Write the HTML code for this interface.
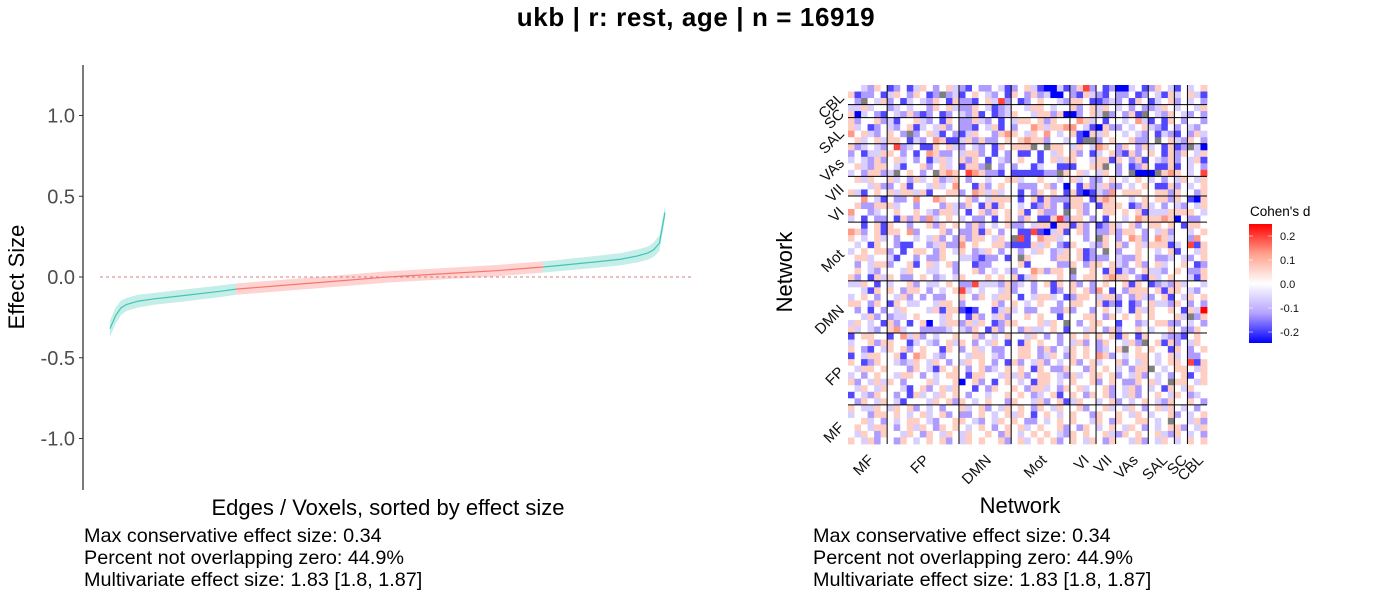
<!DOCTYPE html>
<html><head><meta charset="utf-8">
<style>
html,body{margin:0;padding:0;background:#fff;}
svg{display:block;font-family:"Liberation Sans",Arial,sans-serif;}
</style></head>
<body>
<svg id="chart" width="1400" height="600" viewBox="0 0 1400 600" xmlns="http://www.w3.org/2000/svg">
<text x="696" y="26" text-anchor="middle" font-size="26" font-weight="bold" fill="#000" letter-spacing="0.6">ukb | r: rest, age | n = 16919</text>
<g id="left"></g>
<g id="right"></g>
<g font-size="19.8">
<text x="84" y="542">Max conservative effect size: 0.34</text>
<text x="84" y="564">Percent not overlapping zero: 44.9%</text>
<text x="84" y="586">Multivariate effect size: 1.83 [1.8, 1.87]</text>
<text x="813" y="542">Max conservative effect size: 0.34</text>
<text x="813" y="564">Percent not overlapping zero: 44.9%</text>
<text x="813" y="586">Multivariate effect size: 1.83 [1.8, 1.87]</text>
</g>
</svg>
<script>
// ---- left chart data ----
const pct = [0,1,2,3,5,8,12,20,22.7,30,40,50,60,70,78,80,88,92,95,97,98,99,100];
const effect = [-0.32,-0.24,-0.19,-0.17,-0.15,-0.135,-0.12,-0.088,-0.075,-0.055,-0.028,0,0.02,0.04,0.062,0.068,0.095,0.11,0.13,0.15,0.17,0.21,0.40];
const ciLow = [-0.37,-0.29,-0.235,-0.21,-0.19,-0.172,-0.157,-0.124,-0.11,-0.09,-0.063,-0.035,-0.015,0.005,0.027,0.033,0.058,0.072,0.09,0.108,0.125,0.16,0.36];
const ciHigh = [-0.27,-0.19,-0.145,-0.13,-0.11,-0.098,-0.083,-0.052,-0.04,-0.02,0.007,0.035,0.055,0.075,0.097,0.103,0.132,0.148,0.17,0.19,0.215,0.26,0.44];
const yTicks = [1.0,0.5,0.0,-0.5,-1.0];
const yTickLabels = ["1.0","0.5","0.0","-0.5","-1.0"];
const redStart = 22.7, redEnd = 78;

// ---- heatmap data ----
const networks = ["MF","FP","DMN","Mot","VI","VII","VAs","SAL","SC","CBL"];
const netSizes = [6,11,8,9,4,3,5,4,2,3];
const legendTicks = [0.2,0.1,0.0,-0.1,-0.2];
const legendTickLabels = ["0.2","0.1","0.0","-0.1","-0.2"];
// rows from top (CBL) to bottom (MF); letters: g = 0, step 0.065 per letter, x = NA
const matrixRows = [
"ggfeh gdegd fhgeg hfedg eegfd eghfd acfde hjegd eacfg dehgf dgfgh",
"hdeeg dfhge hgdex efdgh gfegd hgehe fabge dhfed geegd egfdh fghfd",
"gexgf hegdf gfehg dheed ghfje gdegh ggfeh hgdde fegdh gdfgh egfge",
"ffhfg gefgf ggehg hfeeh gfdef ggfhh gfggh eghfh gfgeg eefhg fggfh",
"hcfge dgfeh edegd egfeh dgdef hggfh hehac eghfx egehd xgfeh gfege",
"heggh efdgg hfegd hgeeh fegdg fhhgh ehggg ihfgd ggfgi fdgdh gegge",
"hfgde gfegh dfgfh egeed gfhdg eggih fhhii gfdbh eegfg hfedg egfeg",
"ighfe ghgex eghfd gedfh ggehi hgfhg igfgh dbhfh ggfgf egdfe dgehf",
"ghfgh fhhgd fegih ddfhe heegh ghihh eggfg dxxeg hgghe egxgh fehge",
"hefgf egjef gddhg hfegf egdhg hhhxg xhhgf hgfih gehge hfgdh dexfb",
"egdff hhgeg dgihe egfhh egdge gddgd gfhgh egdfg hedhe ghgdh ehgfh",
"fgfeh eghfg egdfh fgheh gdgfe ghggd ghfhh ggfhh dhgeh dgfeh egfhd",
"ghfeh hgfdg ghegh fgdhh exgeg eggdf ggddd gghhx gegde hgddh dgfge",
"fgehh efxgh gegxh ihgji heedg ddddd eexhg hfgfh gegxb baxhi hgfgj",
"ghfhg ghfge hfghe fhgeg gfggh hfggh ggfgh fgeeg hgfgh gfgeg fhgfh",
"gggfh eeghd ggfhf giggd heghg geeeg hegcg dhefh eegfg hgddh egfgh",
"hfdgh ghfhh fhdgg hhegi hfhfg gdgeh ghgdh dcdfe ighhh gghhe hggeh",
"ggigf dgeeg iggih ggghe gfhhh gdghd heeeh hgdhi hggfg hghhe hgdbh",
"gheeh hhfgg eggge hfehg dhdhg gfgde hegdh hegdh hhgde hfgeg fegfh",
"iggef gghgg hgfeh hfgdg hehgh ghdgh eegxg heggh hghgh dfffh hhhgf",
"fgdge egdhe heifg hgfge egdgh gehgd dhjeh hgegd ggfgi hhhih bgeeg",
"ggdgh dhgge ggheh ghgeh egfgh eegfh hbhhd hegde hfghe ghhgh gdhhg",
"ihegh dhhgi egggh egeeh dhgeg gddjd bfhdg hegee hehhg egfhe ggfgh",
"hgfgh fgegg fgfhe geheh hgfhg xjdgi hhfgg gegxh gegih egihf ggeig",
"gfgdh ggedd ggefh eeigh gghhe dddhf hgedh ggfeh ghegh fhhhd fgjdh",
"fghgh hegdg hhgeh gfhge fhgeg gegfh gefhg hdegx geggh ggfgh dggfh",
"ghhfg gfdgg egeeh ggffe deegd gxhgg gehhg hdeee gfeeh ggeef gfegh",
"gegfh heggh dghfg heggd eeggg ghdgg ggeeh gehhg hfegh eghfg ghgde",
"ghgfe gggfh ggffg geggh egfgf eggih ehhgx gghgd hdfeg hffeg hgeeh",
"hegdh fhgee ghgef gfhgg ghghg hdfhg gghge ghhgh ihhge dhfgh ggfdh",
"ffhgd gfggh egffg hgeej fffeh efgeg hdhgh egegh gghdh gdefe hfggf",
"ggfdh ghgeh hgegf ghjfg fggfh eggeg gdegh gheig dgehh hghdh hgfeg",
"fghge ggfhe gegee gghge hgfhh gdgfh hfgde hhgfh hegeh feghd gfhgh",
"hhgeh gdhgf fggfh hgegg ggheg hgfgh ggegh hgghd edgde ghffe hgege",
"gegdg egfhg ggfhd hhdcd ggdfh fgeeg geehe ggegh gfgdh fhggh gdhfk",
"ggfhe geffg hgggf hggdh egfhe gghgh ggdgg ghhge hghgh ghggg hfxeh",
"fhgfg dhegd ghcgf hhehf hgdeh hgggh fhgxg eghhg gdgge fghhe egfge",
"hfgfe ghifg geeee fgfeh gdheg gehff ghgdg gfhge heggh gfggh geehg",
"dghhg gdgif hegfg ghggh egfgh ggfhg egegh ghghg hdhgd hggfe edghg",
"fgghe hhggd fgfeg hfhge gfhgd gdhgh ggegf hegeh ggfhe xghdh egfhg",
"hgedg fhghe ghggd hgegh fgeeg ghhge hegfh ghgef ghxgh ghggd hgegh",
"dgfhh gghdg ihgfe gggfh hgfeg ghhge fhgeh ghgih egfgh hgfgh fgeeg",
"hgdeh ggfef hgfhg egfhg hgegd hegfh egfgh eghfg ghegf hgfgh hgjdh",
"gfhhg hggge hgfdh ghgeg hefgh ghgdh geehg gehgh gfgeh hxgfg hhgfh",
"fgegh ggfhh gegfg hhgdh hggfh fhegh hgfeh fghhg hegfh egfge ghdgh",
"hegfh fhgeg gghfg ghcgh egdgh gfgdh hgfgh ggheg hgeeh ghfgx hhgfh",
"gfhgf hggfd ghegh fhggd gehgg hgehh fgehg hfggh egfhe gfgdh gfhgg",
"dgfeh ggegd hfgfh ghgeg gfggh ghgef ghdgh gehgh egfhe gghgf hgefg",
"gehgf hgfdg ggfhg hehgf ghgge hggfh eghdf hggfg hegfg hgfeh gghge",
"hgffh gfhgh egfge gghfg hegfh ghgeh gfhgg heggh fgfhg eghfh gfgeg",
"fggeh hghgf ghfgh egeeg hgfgh fhgdg hgfgh ggehg ghgfh gfggh egfgh",
"gghfg egfgh hgfeg ghhgf egfhg hgeeg fghgh ggfhg ehggh hgfgx ggfhe",
"ghgfh hgegh fhgeh ghgfg hgegh ghfgh ggheg ehgfg hgfhg egfgh hegfh",
"gfhge hggfh gehgf hgfhg ghgeh gfghg hgfeh ghggh fehgh gghfe hgfge",
"hgfhe ggehg fghgh egfhg hgghe ghfgh ghegh gfhge hggfh egfhg fghgh"
];

const NS = "http://www.w3.org/2000/svg";
function mk(tag, attrs, parent, txt){
  const el = document.createElementNS(NS, tag);
  for (const k in attrs) el.setAttribute(k, attrs[k]);
  if (txt !== undefined) el.textContent = txt;
  parent.appendChild(el);
  return el;
}

// ===== Left chart =====
const L = document.getElementById('left');
const xL0 = 110, xL1 = 665, y0 = 277, ySc = 161.5;
const xP = p => xL0 + (xL1 - xL0) * p / 100;
const yV = v => y0 - v * ySc;

let ax = mk('line', {x1:83, y1:65, x2:83, y2:490, stroke:'#333', 'stroke-width':1.3}, L);


yTicks.forEach((t, i) => {
  const tk = mk('line', {x1:79, y1:yV(t), x2:83, y2:yV(t), stroke:'#333', 'stroke-width':1}, L);
  
  
  const lb = mk('text', {x:75, y:yV(t)+7, 'text-anchor':'end', 'font-size':20, fill:'#4d4d4d'}, L, yTickLabels[i]);
  
  
});
let yl = mk('text', {x:0, y:0, transform:'translate(24,277) rotate(-90)', 'text-anchor':'middle', 'font-size':22}, L, 'Effect Size');


let xl = mk('text', {x:388, y:515, 'text-anchor':'middle', 'font-size':22}, L, 'Edges / Voxels, sorted by effect size');



function interp(arr, p){
  for (let i = 0; i < pct.length - 1; i++) {
    if (p >= pct[i] && p <= pct[i+1]) {
      const f = (p - pct[i]) / (pct[i+1] - pct[i]);
      return arr[i] + f * (arr[i+1] - arr[i]);
    }
  }
  return arr[arr.length-1];
}
function segment(pa, pb, fill, line, name){
  const ps = [pa];
  pct.forEach(p => { if (p > pa && p < pb) ps.push(p); });
  ps.push(pb);
  const up = ps.map(p => xP(p) + ',' + yV(interp(ciHigh, p)));
  const lo = ps.slice().reverse().map(p => xP(p) + ',' + yV(interp(ciLow, p)));
  const band = mk('polygon', {points: up.concat(lo).join(' '), fill: fill}, L);
  
  
  const ln = mk('polyline', {points: ps.map(p => xP(p) + ',' + yV(interp(effect, p))).join(' '), fill:'none', stroke: line, 'stroke-width':1.2}, L);
  
  
}
segment(0, redStart, '#c6eee9', '#3fc6b5', 'negative-nonzero');
segment(redStart, redEnd, '#ffd3d1', '#f8766d', 'overlapping-zero');
segment(redEnd, 100, '#c6eee9', '#3fc6b5', 'positive-nonzero');
let zl = mk('line', {x1:100, y1:y0, x2:692, y2:y0, stroke:'#d08080', 'stroke-width':1, 'stroke-dasharray':'3,3'}, L);



// ===== Heatmap =====
const R = document.getElementById('right');
const hx0 = 848, hy0 = 85, hSize = 359;
const nTot = netSizes.reduce((a,b) => a+b, 0);
const cs = hSize / nTot;
function lerp(a, b, t){ return a.map((v, i) => Math.round(v + (b[i] - v) * t)); }
function colorFor(ch){
  if (ch === 'x') return '#7f7f7f';
  const v = (ch.charCodeAt(0) - 103) * 0.065;
  const t = Math.min(1, Math.abs(v) / 0.25);
  let c;
  if (v >= 0) c = t < 0.5 ? lerp([255,255,255],[255,160,140],t*2) : lerp([255,160,140],[255,0,0],(t-0.5)*2);
  else c = t < 0.5 ? lerp([255,255,255],[182,162,255],t*2) : lerp([182,162,255],[0,0,255],(t-0.5)*2);
  return `rgb(${c[0]},${c[1]},${c[2]})`;
}
matrixRows.forEach((row, r) => {
  const s = row.replace(/ /g, '').padEnd(nTot, 'g');
  for (let c = 0; c < nTot; c++) {
    const cell = mk('rect', {x: hx0 + c*cs, y: hy0 + r*cs, width: cs+0.4, height: cs+0.4, fill: colorFor(s[c])}, R);
    
    
  }
});
let cum = 0;
const xCenters = [], yCenters = [];
netSizes.forEach((n, i) => {
  xCenters.push(hx0 + (cum + n/2) * cs);
  yCenters.push(hy0 + hSize - (cum + n/2) * cs);
  cum += n;
  if (i < netSizes.length - 1) {
    const vx = hx0 + cum * cs, hy = hy0 + hSize - cum * cs;
    const vl = mk('line', {x1:vx, y1:hy0, x2:vx, y2:hy0+hSize, stroke:'#000', 'stroke-width':1}, R);
    
    
    const hl = mk('line', {x1:hx0, y1:hy, x2:hx0+hSize, y2:hy, stroke:'#000', 'stroke-width':1}, R);
    
    
  }
});
networks.forEach((nm, i) => {
  const tx = mk('text', {x:0, y:0, transform:`translate(${xCenters[i]+7},${hy0+hSize+17}) rotate(-45)`, 'text-anchor':'end', 'font-size':15, fill:'#111'}, R, nm);
  
  
  const ty = mk('text', {x:0, y:0, transform:`translate(${hx0-3},${yCenters[i]+4}) rotate(-45)`, 'text-anchor':'end', 'font-size':15, fill:'#111'}, R, nm);
  
  
});
let hxl = mk('text', {x:1020, y:513, 'text-anchor':'middle', 'font-size':22}, R, 'Network');


let hyl = mk('text', {x:0, y:0, transform:'translate(792,272) rotate(-90)', 'text-anchor':'middle', 'font-size':22}, R, 'Network');



// legend
const lgTop = 224, lgBot = 343, lgZero = 284, lgScale = 240;
const defs = mk('defs', {}, R);
const grad = mk('linearGradient', {id:'cb', x1:0, y1:0, x2:0, y2:1}, defs);
mk('stop', {offset:'0', 'stop-color':'#ff0000'}, grad);
mk('stop', {offset:'0.25', 'stop-color':'#ffa08c'}, grad);
mk('stop', {offset:'0.5', 'stop-color':'#ffffff'}, grad);
mk('stop', {offset:'0.75', 'stop-color':'#b6a2ff'}, grad);
mk('stop', {offset:'1', 'stop-color':'#0000ff'}, grad);
let lt = mk('text', {x:1250, y:216, 'font-size':13.5}, R, "Cohen's d");


let cb = mk('rect', {x:1249, y:lgTop, width:23, height:lgBot-lgTop, fill:'url(#cb)'}, R);


legendTicks.forEach((t, i) => {
  const yy = lgZero - t * lgScale;
  const a = mk('line', {x1:1249, y1:yy, x2:1253, y2:yy, stroke:'#fff', 'stroke-width':0.8, opacity:0.7}, R);
  
  
  const b = mk('line', {x1:1268, y1:yy, x2:1272, y2:yy, stroke:'#fff', 'stroke-width':0.8, opacity:0.7}, R);
  
  
  const lb = mk('text', {x:1280, y:yy+4, 'font-size':11, fill:'#111'}, R, legendTickLabels[i]);
  
  
});
</script>
</body></html>
